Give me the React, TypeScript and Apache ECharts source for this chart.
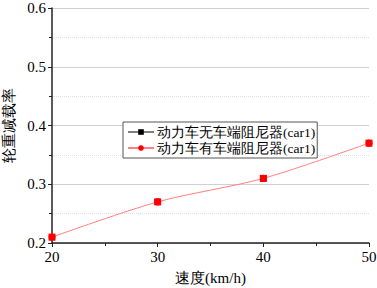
import React, { useEffect, useRef } from "react";
import * as echarts from "echarts";

const speeds = [20, 30, 40, 50];
const noDamper = [0.21, 0.27, 0.31, 0.37];
const withDamper = [0.21, 0.27, 0.31, 0.37];
const seriesNames = ["动力车无车端阻尼器(car1)", "动力车有车端阻尼器(car1)"];
const xTitle = "速度(km/h)";
const yTitle = "轮重减载率";

const FONT = "'Liberation Serif', 'Times New Roman', serif";

export default function App() {
  const ref = useRef<HTMLDivElement>(null);
  useEffect(() => {
    const chart = echarts.init(ref.current!, null, { renderer: "svg" });
    const pairs = (ys: number[]) => speeds.map((x, i) => [x, ys[i]]);
    chart.setOption({
      animation: false,
      backgroundColor: "#fff",
      textStyle: { fontFamily: FONT },
      grid: { left: 52, right: 8, top: 8, bottom: 45, outerBoundsMode: "none", containLabel: false },
      legend: {
        data: [
          { name: seriesNames[0], lineStyle: { color: "#000", width: 1, opacity: 1 } },
          { name: seriesNames[1] },
        ],
        orient: "vertical",
        left: 123,
        top: 122,
        itemWidth: 26,
        itemHeight: 7,
        itemGap: 2,
        padding: [3, 2, 3, 4],
        borderColor: "#555",
        borderWidth: 1,
        borderRadius: 0,
        backgroundColor: "#fff",
        textStyle: { fontFamily: FONT, fontSize: 13.5, color: "#000", padding: [0, 0, 0, -2] },
      },
      xAxis: {
        type: "value",
        min: 20,
        max: 50,
        interval: 10,
        name: xTitle,
        nameLocation: "middle",
        nameGap: 27,
        nameTextStyle: { fontFamily: FONT, fontSize: 15, color: "#000" },
        axisLine: { lineStyle: { color: "#222", width: 1.5 } },
        axisTick: { show: true, length: 4, lineStyle: { color: "#222" } },
        minorTick: { show: true, splitNumber: 2, length: 3, lineStyle: { color: "#222" } },
        axisLabel: { fontFamily: FONT, fontSize: 15, color: "#000", margin: 6 },
        splitLine: { show: false },
      },
      yAxis: {
        type: "value",
        min: 0.2,
        max: 0.6,
        interval: 0.1,
        name: yTitle,
        nameLocation: "middle",
        nameGap: 35,
        nameTextStyle: { fontFamily: FONT, fontSize: 15, color: "#000" },
        axisLine: { show: true, lineStyle: { color: "#222", width: 1.5 } },
        axisTick: { show: true, length: 4, lineStyle: { color: "#222" } },
        minorTick: { show: true, splitNumber: 2, length: 3, lineStyle: { color: "#222" } },
        axisLabel: { fontFamily: FONT, fontSize: 15, color: "#000", margin: 6, formatter: (v: number) => v.toFixed(1) },
        splitLine: { show: true, lineStyle: { color: "#d0d0d0", width: 1 } },
        minorSplitLine: { show: true, lineStyle: { color: "#e0e0e0", type: "dotted", width: 1 } },
      },
      series: [
        {
          name: seriesNames[0],
          type: "line",
          data: pairs(noDamper),
          symbol: "rect",
          symbolSize: 6,
          smooth: 0.3,
          itemStyle: { color: "#000" },
          lineStyle: { color: "#000", width: 1, opacity: 0 },
          z: 2,
        },
        {
          name: seriesNames[1],
          type: "line",
          data: pairs(withDamper),
          symbol: "circle",
          symbolSize: 7,
          smooth: 0.3,
          itemStyle: { color: "#ff0000" },
          lineStyle: { color: "#ff8080", width: 1 },
          z: 3,
        },
        {
          name: "markers",
          type: "line",
          data: pairs(withDamper),
          symbol: "rect",
          symbolSize: 7,
          lineStyle: { width: 0, opacity: 0 },
          itemStyle: { color: "#ff0000" },
          z: 4,
        },
      ],
    });
    return () => chart.dispose();
  }, []);
  return <div ref={ref} style={{ position: "fixed", left: 0, top: 0, width: 377, height: 288 }} />;
}
